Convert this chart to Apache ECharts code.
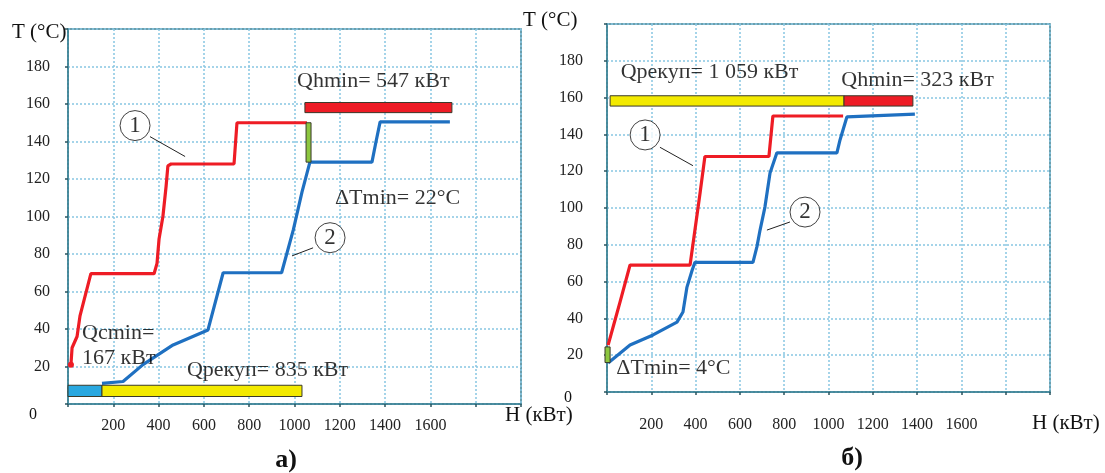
<!DOCTYPE html>
<html><head><meta charset="utf-8">
<script src="https://cdn.jsdelivr.net/npm/echarts@6/dist/echarts.min.js"></script>
<style>html,body{margin:0;padding:0;background:#fff}#c{width:1105px;height:473px}</style>
</head><body><div id="c"></div>
<script>
// ---------- tick labels ----------
const xTickLabels = [200, 400, 600, 800, 1000, 1200, 1400, 1600];
const yTickLabels = [20, 40, 60, 80, 100, 120, 140, 160, 180];

// ---------- panel а) ----------
const redA_H  = [13, 18, 40, 53, 101, 380, 393, 402, 419, 433, 441, 455, 733, 746, 1055];
const redA_T  = [21, 30, 36, 47, 69.5, 69.5, 75, 88, 100, 116, 127, 128, 128, 150, 150];
const blueA_H = [150, 243, 331, 464, 618, 685, 943, 995, 1033, 1068, 1342, 1360, 1378, 1686];
const blueA_T = [11, 12, 21, 31.5, 39.5, 70, 70, 93, 113, 129, 129, 140, 150.5, 150.5];
// bars: [H from, H to, T from, T to]
const barsA = [[0, 150, 4, 10], [150, 1033, 4, 10], [1046, 1695, 155.4, 160.8], [1051, 1073, 129, 150]];
const annA_text = ['Qhmin= 547 кВт', 'ΔTmin= 22°C', 'Qcmin=\n167 кВт', 'Qрекуп= 835 кВт'];
const annA_H = [1348, 1455, 62, 881];
const annA_T = [172, 110, 31.3, 18.2];
const circA_H = [296, 1157];
const circA_T = [148.5, 88.7];
const leadA = [[[362, 142.6], [517, 132]], [[1082, 83.3], [989, 79]]];

// ---------- panel б) ----------
const redB_H  = [5, 36, 59, 104, 375, 397, 420, 442, 731, 749, 1066];
const redB_T  = [25.5, 39, 49, 69, 69, 88, 108, 128, 128, 150, 150];
const blueB_H = [5, 104, 208, 316, 343, 361, 384, 397, 659, 677, 691, 713, 736, 767, 1038, 1052, 1083, 1390];
const blueB_T = [15.8, 25.5, 31, 38, 43.5, 57, 66, 70.5, 70.5, 79, 88, 100.5, 119, 130, 130, 137, 149.5, 151];
const barsB = [[-9, 14, 16, 24.5], [14, 1070, 155.4, 161], [1070, 1381, 155.4, 161]];
const annB_text = ['Qрекуп= 1 059 кВт', 'Qhmin= 323 кВт', 'ΔTmin= 4°C'];
const annB_H = [463, 1402, 300];
const annB_T = [173.9, 169.6, 13];
const circB_H = [172, 894];
const circB_T = [139.7, 97.8];
const leadB = [[[239, 133], [388, 123]], [[826, 92.4], [722, 88]]];

// ---------- styles ----------
const SERIF = '"Liberation Serif", "DejaVu Serif", serif';
const RED = '#ee1c25', BLUE = '#1f70c1';
const barColorsA = ['#29a8e0', '#f3ea00', '#ee1c25', '#8cc63f'];
const barColorsB = ['#8cc63f', '#f3ea00', '#ee1c25'];
const FRAME = '#3b8092';

const chart = echarts.init(document.getElementById('c'), null, {renderer: 'canvas'});

function xAxis(gi, margin) {
  return {
    type: 'value', gridIndex: gi, min: 0, max: 2000, interval: 200,
    axisLine: {show: true, onZero: false, lineStyle: {color: FRAME, width: 1.5}},
    axisTick: {show: true, length: 3, lineStyle: {color: '#2a5560', width: 1.5}},
    axisLabel: {margin: margin, fontFamily: SERIF, fontSize: 16, color: '#222',
      formatter: v => xTickLabels.includes(v) ? String(v) : ''},
    splitLine: {show: true, lineStyle: {color: '#88c6e2', type: [2, 2], width: 1.5}}
  };
}
function yAxis(gi, margin) {
  return {
    type: 'value', gridIndex: gi, min: 0, max: 200, interval: 20,
    axisLine: {show: true, onZero: false, lineStyle: {color: FRAME, width: 1.5}},
    axisTick: {show: true, length: 3, lineStyle: {color: '#2a5560', width: 1.5}},
    axisLabel: {margin: margin, fontFamily: SERIF, fontSize: 16, color: '#222',
      formatter: v => yTickLabels.includes(v) ? String(v) : ''},
    splitLine: {show: true, lineStyle: {color: '#88c6e2', type: [2, 2], width: 1.5}}
  };
}
function curve(H, T, color, gi, startDot) {
  return {type: 'line', xAxisIndex: gi, yAxisIndex: gi,
    data: H.map((h, i) => (i === 0 && startDot)
      ? {value: [h, T[i]], symbol: 'circle', symbolSize: 6, itemStyle: {color: color, borderWidth: 0}}
      : {value: [h, T[i]], symbol: 'none'}),
    showSymbol: true, lineStyle: {color: color, width: 3.2}, z: 5, silent: true};
}
function bars(data, colors, gi) {
  return {type: 'custom', xAxisIndex: gi, yAxisIndex: gi, clip: false, z: 6,
    encode: {x: [0, 1], y: [2, 3]}, data: data,
    renderItem: (p, api) => {
      const a = api.coord([api.value(0), api.value(3)]);
      const b = api.coord([api.value(1), api.value(2)]);
      return {type: 'rect', shape: {x: a[0], y: a[1], width: b[0] - a[0], height: b[1] - a[1]},
        style: {fill: colors[p.dataIndex], stroke: '#3a3a2a', lineWidth: 1}};
    }};
}
function circles(H, T, gi) {
  return {type: 'scatter', xAxisIndex: gi, yAxisIndex: gi, z: 8,
    data: H.map((h, i) => ({value: [h, T[i]], name: String(i + 1)})),
    symbol: 'circle', symbolSize: 30,
    itemStyle: {color: '#fff', borderColor: '#111', borderWidth: 1},
    label: {show: true, position: 'inside', formatter: p => p.name, fontFamily: SERIF, fontSize: 23, color: '#000'}};
}
function leaders(segs, gi) {
  return segs.map(s => ({type: 'line', xAxisIndex: gi, yAxisIndex: gi, data: s, symbol: 'none',
    lineStyle: {color: '#222', width: 1}, z: 7, silent: true}));
}
function texts(txt, H, T, aligns, gi) {
  return {type: 'scatter', xAxisIndex: gi, yAxisIndex: gi, z: 9, symbolSize: 1,
    itemStyle: {color: 'rgba(0,0,0,0)'},
    data: txt.map((t, i) => ({value: [H[i], T[i]], name: t,
      label: {align: aligns[i]}})),
    label: {show: true, position: 'inside', verticalAlign: 'middle', formatter: p => p.name,
      fontFamily: SERIF, fontSize: 22, lineHeight: 25, color: '#000'}};
}
function gtext(t, x, y, size, align, bold) {
  return {type: 'text', x: x, y: y, z: 20,
    style: {text: t, x: 0, y: 0, textAlign: align, textVerticalAlign: 'middle',
      font: (bold ? 'bold ' : '') + size + 'px ' + SERIF, fill: '#111'}};
}

chart.setOption({
  animation: false,
  backgroundColor: '#fff',
  grid: [
    {left: 68, top: 29, width: 453, height: 375, show: true, borderColor: FRAME, borderWidth: 1.5, backgroundColor: '#fff'},
    {left: 607, top: 24, width: 443, height: 368, show: true, borderColor: FRAME, borderWidth: 1.5, backgroundColor: '#fff'}
  ],
  xAxis: [xAxis(0, 14), xAxis(1, 25)],
  yAxis: [yAxis(0, 18), yAxis(1, 24)],
  series: [
    bars(barsA, barColorsA, 0),
    curve(redA_H, redA_T, RED, 0, true),
    curve(blueA_H, blueA_T, BLUE, 0, false),
    circles(circA_H, circA_T, 0),
    ...leaders(leadA, 0),
    texts(annA_text, annA_H, annA_T, ['center', 'center', 'left', 'center'], 0),
    bars(barsB, barColorsB, 1),
    curve(redB_H, redB_T, RED, 1, false),
    curve(blueB_H, blueB_T, BLUE, 1, false),
    circles(circB_H, circB_T, 1),
    ...leaders(leadB, 1),
    texts(annB_text, annB_H, annB_T, ['center', 'center', 'center'], 1)
  ],
  graphic: [
    gtext('T (°C)', 12, 32, 21, 'left', false),
    gtext('T (°C)', 523, 20, 21, 'left', false),
    gtext('H (кВт)', 505, 415, 21, 'left', false),
    gtext('H (кВт)', 1032, 423, 21, 'left', false),
    gtext('0', 33, 415, 16, 'center', false),
    gtext('0', 568, 398, 16, 'center', false),
    gtext('а)', 286, 460, 26, 'center', true),
    gtext('б)', 852, 458, 26, 'center', true)
  ]
});
</script>
</body></html>
